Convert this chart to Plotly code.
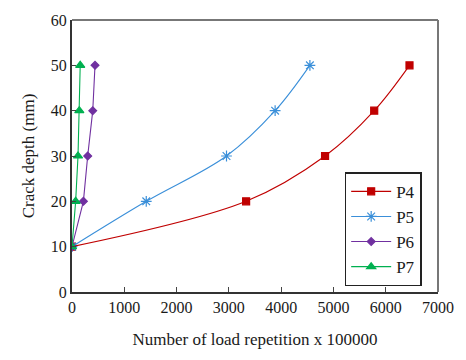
import plotly.graph_objects as go

series_names = ["P4", "P5", "P6", "P7"]
crack_depth = [10, 20, 30, 40, 50]
p4_x = [0, 3330, 4840, 5780, 6455]
p5_x = [0, 1420, 2955, 3885, 4550]
p6_x = [0, 218, 300, 397, 440]
p7_x = [0, 70, 115, 140, 157]
x_ticks = [0, 1000, 2000, 3000, 4000, 5000, 6000, 7000]
y_ticks = [0, 10, 20, 30, 40, 50, 60]

colors = ["#C00000", "#3A8FD9", "#7030A0", "#00B050"]
symbols = ["square", "asterisk-open", "diamond", "triangle-up"]
sizes = [7, 9, 6, 8]
shapes = ["spline", "spline", "linear", "linear"]

fig = go.Figure()
for name, xs, c, s, sz, sh in zip(series_names, [p4_x, p5_x, p6_x, p7_x], colors, symbols, sizes, shapes):
    fig.add_trace(go.Scatter(
        x=xs, y=crack_depth, name=name, mode="lines+markers",
        line=dict(color=c, width=1.1, shape=sh, smoothing=1.0),
        marker=dict(color=c, symbol=s, size=sz, line=dict(color=c, width=1.2)),
    ))

font = "Liberation Serif"
fig.update_layout(
    width=466, height=360,
    margin=dict(l=72, r=16, t=17, b=68),
    paper_bgcolor="white", plot_bgcolor="white",
    font=dict(family=font, size=16, color="#1a1a1a"),
    showlegend=True,
    legend=dict(x=0.745, y=0.44, xanchor="left", yanchor="top",
                bordercolor="#222", borderwidth=1.5, bgcolor="white",
                font=dict(family=font, size=17, color="#1a1a1a"), tracegroupgap=0,
                itemwidth=40),
    xaxis=dict(range=[0, 7000], tickvals=x_ticks, ticks="inside", ticklen=5,
               tickcolor="#444", showgrid=False, zeroline=False,
               tickfont=dict(family=font, size=16, color="#1a1a1a"),
               showline=True, linecolor="#333", linewidth=2, mirror=False,
               title=dict(text="Number of load repetition x 100000", standoff=18,
                          font=dict(family=font, size=17))),
    yaxis=dict(range=[0, 60], tickvals=y_ticks, ticks="inside", ticklen=4,
               tickcolor="#444", showgrid=False, zeroline=False,
               tickfont=dict(family=font, size=16, color="#1a1a1a"),
               showline=True, linecolor="#333", linewidth=2,
               title=dict(text="Crack depth (mm)", standoff=12,
                          font=dict(family=font, size=17))),
)
# top/right frame in grey
fig.add_shape(type="line", xref="paper", yref="paper", x0=0, x1=1, y0=1, y1=1,
              line=dict(color="#777", width=2))
fig.add_shape(type="line", xref="paper", yref="paper", x0=1, x1=1, y0=0, y1=1,
              line=dict(color="#777", width=2))

fig.write_html("out.html")
